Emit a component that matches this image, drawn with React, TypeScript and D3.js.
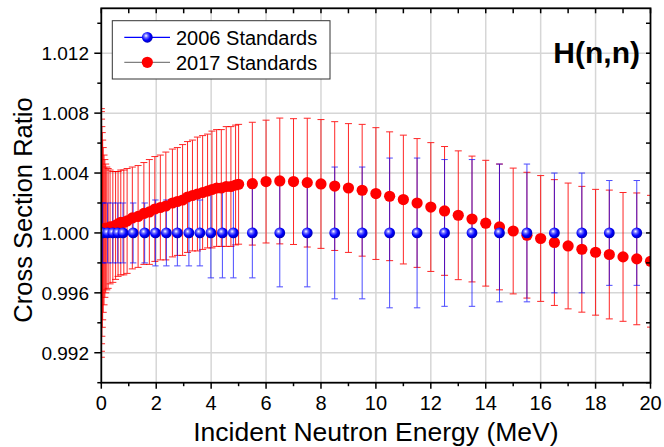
import React from "react";
import * as d3 from "d3";

// 2006 Standards (blue)
const e2006 = [0.02, 0.05, 0.23, 0.42, 0.6, 0.79, 1.16, 1.58, 1.97, 2.37, 2.77, 3.19, 3.59, 3.99, 4.41, 4.81,
  5.5, 6.5, 7.5, 8.5, 9.5, 10.5, 11.5, 12.5, 13.5, 14.5, 15.5, 16.5, 17.5, 18.5, 19.5];
const v2006 = [1.0, 1.0, 1.0, 1.0, 1.0, 1.0, 1.0, 1.0, 1.0, 1.0, 1.0, 1.0, 1.0, 1.0, 1.0, 1.0,
  1.0, 1.0, 1.0, 1.0, 1.0, 1.0, 1.0, 1.0, 1.0, 1.0, 1.0, 1.0, 1.0, 1.0, 1.0];
const err2006 = [0.002, 0.002, 0.002, 0.002, 0.002, 0.002, 0.002, 0.002, 0.0022, 0.0022, 0.0022, 0.0022, 0.0022, 0.003, 0.003, 0.003,
  0.003, 0.0036, 0.0036, 0.0044, 0.0044, 0.005, 0.005, 0.0049, 0.0049, 0.0046, 0.0046, 0.004, 0.004, 0.0035, 0.0035];

// 2017 Standards (red)
const e2017 = [0.002, 0.005, 0.01, 0.02, 0.035, 0.05, 0.07, 0.1, 0.13, 0.16, 0.2, 0.25, 0.32, 0.42, 0.52, 0.61, 0.71, 0.82, 0.94,
  1.13, 1.34, 1.55, 1.75, 1.95, 2.15, 2.35, 2.59, 2.77, 2.96, 3.14, 3.32, 3.5, 3.69, 3.87, 4.03, 4.2, 4.37, 4.55, 4.72, 4.89, 5.0,
  5.5, 6.0, 6.5, 7.0, 7.5, 8.0, 8.5, 9.0, 9.5, 10.0, 10.5, 11.0, 11.5, 12.0, 12.5, 13.0, 13.5, 14.0, 14.5, 15.0,
  15.5, 16.0, 16.5, 17.0, 17.5, 18.0, 18.5, 19.0, 19.5, 20.0];
const v2017 = [1.0, 1.0001, 1.0001, 1.0001, 1.0002, 1.0002, 1.0002, 1.0002, 1.0003, 1.0003, 1.0003, 1.0003, 1.0004, 1.0004, 1.0005, 1.0006, 1.0007, 1.0007, 1.0008,
  1.001, 1.0011, 1.0013, 1.0014, 1.0016, 1.0017, 1.0018, 1.002, 1.0021, 1.0022, 1.0024, 1.0025, 1.0026, 1.0027, 1.0028, 1.0029, 1.003, 1.003, 1.0031, 1.0031, 1.0032, 1.00325,
  1.00329, 1.00343, 1.00347, 1.00343, 1.00336, 1.00327, 1.00313, 1.003, 1.00285, 1.00263, 1.00245, 1.00223, 1.002, 1.00173, 1.00147, 1.00118, 1.00093, 1.00065, 1.0004, 1.00013,
  0.99985, 0.99963, 0.99936, 0.99913, 0.99891, 0.99871, 0.99856, 0.9984, 0.99827, 0.99811];
const err2017 = [0.0083, 0.008, 0.0075, 0.007, 0.0065, 0.006, 0.0055, 0.005, 0.0046, 0.0043, 0.0041, 0.004, 0.0038, 0.0037, 0.0036, 0.0035, 0.0035, 0.0035, 0.0035,
  0.0034, 0.0034, 0.0034, 0.0035, 0.0035, 0.0035, 0.0036, 0.0036, 0.0036, 0.0037, 0.0037, 0.0037, 0.0038, 0.0038, 0.0038, 0.0039, 0.0039, 0.0039, 0.004, 0.004, 0.004, 0.004,
  0.0041, 0.0041, 0.0042, 0.0042, 0.0043, 0.0043, 0.0043, 0.0043, 0.0044, 0.0044, 0.0043, 0.0043, 0.0043, 0.0043, 0.0043, 0.0043, 0.0042, 0.0042, 0.0042, 0.0042,
  0.0042, 0.0042, 0.0042, 0.0042, 0.0042, 0.0042, 0.0043, 0.0043, 0.0044, 0.0044];

const xTicks = [0, 2, 4, 6, 8, 10, 12, 14, 16, 18, 20];
const xMinor = [1, 3, 5, 7, 9, 11, 13, 15, 17, 19];
const yTicks = [0.992, 0.996, 1.0, 1.004, 1.008, 1.012];
const yMinor = [0.99, 0.994, 0.998, 1.002, 1.006, 1.01, 1.014];
const yTickLabels = ["0.992", "0.996", "1.000", "1.004", "1.008", "1.012"];
const legendLabels = ["2006 Standards", "2017 Standards"];

const L = 101.3, R = 650.5, T = 8.3, B = 382.7;
const FONT = "'Liberation Sans', Arial, sans-serif";

export default function App() {
  const x = d3.scaleLinear().domain([0, 20]).range([L, R]);
  const y = d3.scaleLinear().domain([0.99, 1.015]).range([B, T]);
  const blue = e2006.map((e, i) => ({ e, v: v2006[i], s: err2006[i] }));
  const red = e2017.map((e, i) => ({ e, v: v2017[i], s: err2017[i] }));
  const capR = 3.5, capB = 3.2;
  return (
    <svg width={664} height={447} style={{ position: "absolute", left: 0, top: 0, background: "#fff" }} fontFamily={FONT}>
      <defs>
        <radialGradient id="ball" cx="0.4" cy="0.4" r="0.6" fx="0.38" fy="0.35">
          <stop offset="0" stopColor="#ffffff" />
          <stop offset="0.3" stopColor="#6a6aff" />
          <stop offset="0.65" stopColor="#0000ff" />
          <stop offset="1" stopColor="#0000b8" />
        </radialGradient>
        <clipPath id="plot"><rect x={L} y={T} width={R - L} height={B - T} /></clipPath>
      </defs>
      <rect x={0} y={0} width={664} height={447} fill="#fff" />
      {/* grid */}
      {xTicks.slice(1, -1).map((t) => (
        <line key={"gx" + t} x1={x(t)} x2={x(t)} y1={T} y2={B} stroke="#d6d6d6" strokeWidth={1.5} />
      ))}
      {yTicks.map((t) => (
        <line key={"gy" + t} x1={L} x2={R} y1={y(t)} y2={y(t)} stroke="#d6d6d6" strokeWidth={1.5} />
      ))}
      <g clipPath="url(#plot)">
        {/* red error bars */}
        {red.map((d, i) => (
          <g key={"re" + i} stroke="#ff0000" strokeWidth={1} opacity={0.85}>
            <line x1={x(d.e)} x2={x(d.e)} y1={y(d.v + d.s)} y2={y(d.v - d.s)} />
            <line x1={x(d.e) - capR} x2={x(d.e) + capR} y1={y(d.v + d.s)} y2={y(d.v + d.s)} />
            <line x1={x(d.e) - capR} x2={x(d.e) + capR} y1={y(d.v - d.s)} y2={y(d.v - d.s)} />
          </g>
        ))}
        {/* blue error bars */}
        {blue.map((d, i) => (
          <g key={"be" + i} stroke="#0000ff" strokeWidth={1} opacity={0.7}>
            <line x1={x(d.e)} x2={x(d.e)} y1={y(d.v + d.s)} y2={y(d.v - d.s)} />
            <line x1={x(d.e) - capB} x2={x(d.e) + capB} y1={y(d.v + d.s)} y2={y(d.v + d.s)} />
            <line x1={x(d.e) - capB} x2={x(d.e) + capB} y1={y(d.v - d.s)} y2={y(d.v - d.s)} />
          </g>
        ))}
        {red.map((d, i) => (
          <circle key={"rp" + i} cx={x(d.e)} cy={y(d.v)} r={5.6} fill="#ff0000" />
        ))}
        {blue.map((d, i) => (
          <circle key={"bp" + i} cx={x(d.e)} cy={y(d.v)} r={5.4} fill="url(#ball)" />
        ))}
      </g>
      {/* frame */}
      <rect x={L} y={T} width={R - L} height={B - T} fill="none" stroke="#000" strokeWidth={1.8} />
      {/* bottom ticks */}
      {xTicks.map((t) => (
        <g key={"xt" + t}>
          <line x1={x(t)} x2={x(t)} y1={B} y2={B + 6} stroke="#000" strokeWidth={1.5} />
          <line x1={x(t)} x2={x(t)} y1={T} y2={T + 5} stroke="#000" strokeWidth={1.5} />
          <text x={x(t)} y={410} textAnchor="middle" fontSize={20} fill="#000">{t}</text>
        </g>
      ))}
      {xMinor.map((t) => (
        <g key={"xm" + t}>
          <line x1={x(t)} x2={x(t)} y1={B} y2={B + 3.5} stroke="#000" strokeWidth={1.5} />
          <line x1={x(t)} x2={x(t)} y1={T} y2={T + 5} stroke="#000" strokeWidth={1.5} />
        </g>
      ))}
      {yTicks.map((t, i) => (
        <g key={"yt" + t}>
          <line x1={L - 7} x2={L} y1={y(t)} y2={y(t)} stroke="#000" strokeWidth={1.5} />
          <line x1={R - 4.5} x2={R} y1={y(t)} y2={y(t)} stroke="#000" strokeWidth={1.5} />
          <text x={89} y={y(t) + 6.8} textAnchor="end" fontSize={19} fill="#000">{yTickLabels[i]}</text>
        </g>
      ))}
      {yMinor.filter((t) => t <= 1.015).map((t) => (
        <g key={"ym" + t}>
          <line x1={L - 4} x2={L} y1={y(t)} y2={y(t)} stroke="#000" strokeWidth={1.5} />
          <line x1={R - 4.5} x2={R} y1={y(t)} y2={y(t)} stroke="#000" strokeWidth={1.5} />
        </g>
      ))}
      {/* axis titles */}
      <text x={(L + R) / 2} y={441} textAnchor="middle" fontSize={26.5} fill="#000">Incident Neutron Energy (MeV)</text>
      <text transform={`translate(32, 210) rotate(-90)`} textAnchor="middle" fontSize={25.5} fill="#000">Cross Section Ratio</text>
      {/* legend */}
      <rect x={112.3} y={20.7} width={217.7} height={58.3} fill="#fff" stroke="#333" strokeWidth={1} />
      <line x1={124.3} x2={170} y1={37.3} y2={37.3} stroke="#0000ff" strokeWidth={1.3} />
      <circle cx={147.3} cy={37.3} r={5.4} fill="url(#ball)" />
      <text x={176} y={44.5} fontSize={20} fill="#000">{legendLabels[0]}</text>
      <line x1={124.3} x2={170} y1={62.3} y2={62.3} stroke="#808080" strokeWidth={1.3} />
      <circle cx={147.3} cy={62.3} r={5.6} fill="#ff0000" />
      <text x={176} y={69.5} fontSize={20} fill="#000">{legendLabels[1]}</text>
      <text x={640} y={63} textAnchor="end" fontSize={30} fontWeight="bold" fill="#000">H(n,n)</text>
    </svg>
  );
}
